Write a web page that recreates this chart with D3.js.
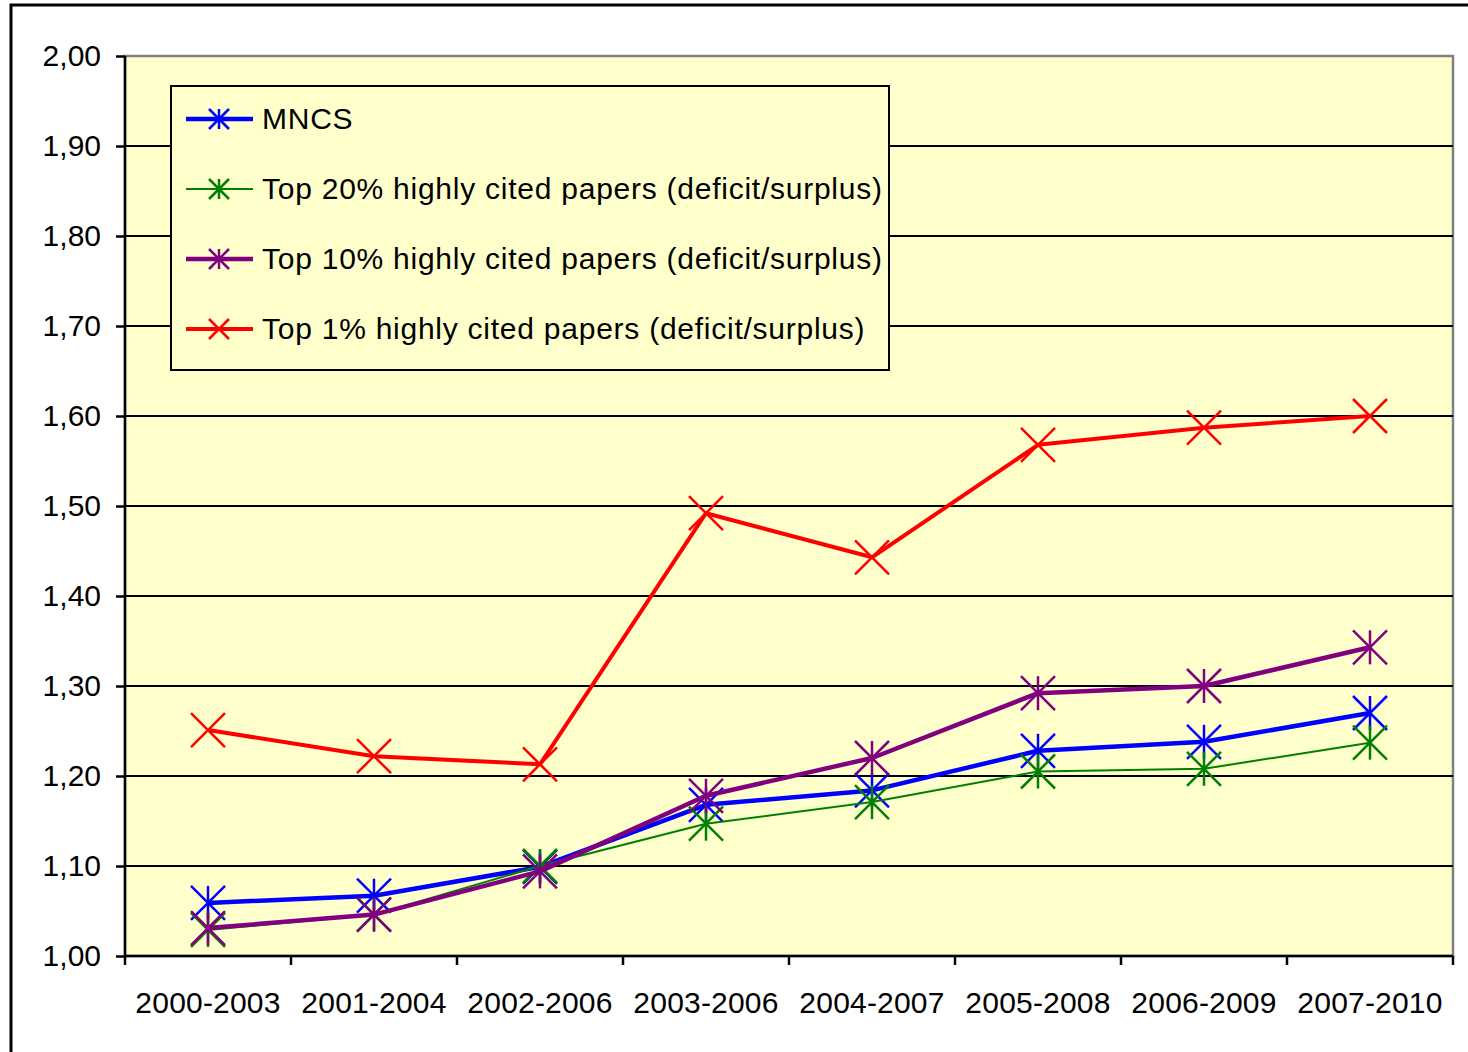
<!DOCTYPE html>
<html lang="en">
<head>
<meta charset="UTF-8">
<title>Chart</title>
<style>
  body { margin: 0; background: #fff; }
  svg text { font-family: "Liberation Sans", Arial, sans-serif; fill: #000; }
</style>
</head>
<body>
<svg id="chart" width="1468" height="1052"></svg>
<script src="https://d3js.org/d3.v7.min.js"></script>
<script>
// periods on the x axis
var periods = ["2000-2003", "2001-2004", "2002-2006", "2003-2006", "2004-2007", "2005-2008", "2006-2009", "2007-2010"];

// series values
var mncs   = [1.059, 1.067, 1.099, 1.168, 1.184, 1.228, 1.238, 1.270];
var top20  = [1.029, 1.046, 1.100, 1.147, 1.171, 1.205, 1.208, 1.237];
var top10  = [1.031, 1.046, 1.094, 1.178, 1.220, 1.292, 1.300, 1.343];
var top1   = [1.251, 1.222, 1.213, 1.492, 1.443, 1.568, 1.587, 1.600];

var yTicks = [1.0, 1.1, 1.2, 1.3, 1.4, 1.5, 1.6, 1.7, 1.8, 1.9, 2.0];

var series = [
  { name: "MNCS", values: mncs, color: "#0000ff", width: 4.5, marker: "star" },
  { name: "Top 20% highly cited papers (deficit/surplus)", values: top20, color: "#008000", width: 2, marker: "star" },
  { name: "Top 10% highly cited papers (deficit/surplus)", values: top10, color: "#800080", width: 4.5, marker: "star" },
  { name: "Top 1% highly cited papers (deficit/surplus)", values: top1, color: "#ff0000", width: 4, marker: "x" }
];

var svg = d3.select("#chart");
// plot edges
var pLeft = 125, pRight = 1453, pTop = 56, pBottom = 956;

// outer frame
svg.append("rect")
  .attr("x", 11).attr("y", 5)
  .attr("width", 1500).attr("height", 1100)
  .attr("fill", "none").attr("stroke", "#000").attr("stroke-width", 3);

var x = d3.scaleBand().domain(periods).range([pLeft, pRight]);
var y = d3.scaleLinear().domain([1, 2]).range([pBottom, pTop]);

// plot background
svg.append("rect")
  .attr("x", pLeft).attr("y", pTop)
  .attr("width", pRight - pLeft).attr("height", pBottom - pTop)
  .attr("fill", "#ffffcc").attr("stroke", "#808080").attr("stroke-width", 2.5);

// gridlines
svg.append("g").selectAll("line")
  .data(yTicks.slice(1, -1))
  .enter().append("line")
  .attr("x1", pLeft).attr("x2", pRight)
  .attr("y1", function(d) { return y(d); })
  .attr("y2", function(d) { return y(d); })
  .attr("stroke", "#000").attr("stroke-width", 2);

// y axis
var yAxis = d3.axisLeft(y)
  .tickValues(yTicks)
  .tickSize(9)
  .tickPadding(8)
  .tickFormat(function(d) { return d3.format(".2f")(d).replace(".", ","); });
var gy = svg.append("g").attr("transform", "translate(" + pLeft + ",0)").call(yAxis);
gy.select(".domain").attr("stroke", "#000").attr("stroke-width", 2.5).attr("d", "M0," + pTop + "V" + pBottom);
gy.selectAll(".tick line").attr("stroke", "#000").attr("stroke-width", 2.5);
gy.selectAll("text")
  .attr("fill", "#000")
  .style("font-family", "'Liberation Sans', Arial, sans-serif")
  .style("font-size", "30px").attr("dx", "-7px");

// x axis with ticks at band edges
var gx = svg.append("g").attr("transform", "translate(0," + pBottom + ")");
gx.append("line").attr("x1", pLeft).attr("x2", pRight)
  .attr("stroke", "#000").attr("stroke-width", 2.5);
gx.selectAll(".edge")
  .data(periods.concat(["end"]))
  .enter().append("line")
  .attr("class", "edge")
  .attr("x1", function(d, i) { return i < periods.length ? x(d) : pRight; })
  .attr("x2", function(d, i) { return i < periods.length ? x(d) : pRight; })
  .attr("y1", 0).attr("y2", 9)
  .attr("stroke", "#000").attr("stroke-width", 2.5);
gx.selectAll(".lbl")
  .data(periods)
  .enter().append("text")
  .attr("x", function(d) { return x(d) + x.bandwidth() / 2; })
  .attr("y", 57)
  .attr("text-anchor", "middle")
  .style("font-size", "30px").style("letter-spacing", "0.2px")
  .text(function(d) { return d; });

function drawMarker(g, type, color, size) {
  var s = size;
  if (type === "star") {
    g.append("line").attr("x1", 0).attr("x2", 0).attr("y1", -s).attr("y2", s);
  }
  g.append("line").attr("x1", -s).attr("x2", s).attr("y1", -s).attr("y2", s);
  g.append("line").attr("x1", -s).attr("x2", s).attr("y1", s).attr("y2", -s);
  g.selectAll("line").attr("stroke", color).attr("stroke-width", 2.5);
}

var line = d3.line()
  .x(function(d, i) { return x(periods[i]) + x.bandwidth() / 2; })
  .y(function(d) { return y(d); });

// legend box
var lg = svg.append("g");
lg.append("rect")
  .attr("x", 171).attr("y", 86).attr("width", 718).attr("height", 284)
  .attr("fill", "#ffffcc").attr("stroke", "#000").attr("stroke-width", 2);
series.forEach(function(s, i) {
  var ly = 119 + i * 70;
  lg.append("line").attr("x1", 186).attr("x2", 253).attr("y1", ly).attr("y2", ly)
    .attr("stroke", s.color).attr("stroke-width", s.width);
  var m = lg.append("g").attr("transform", "translate(219," + ly + ")");
  drawMarker(m, s.marker, s.color, 10);
  lg.append("text").attr("x", 262).attr("y", ly + 10)
    .style("font-size", "30px").style("letter-spacing", "0.75px").text(s.name);
});

// series lines and markers
series.forEach(function(s) {
  svg.append("path")
    .datum(s.values)
    .attr("d", line)
    .attr("fill", "none")
    .attr("stroke", s.color)
    .attr("stroke-width", s.width)
    .attr("stroke-linejoin", "round");
  s.values.forEach(function(v, i) {
    var m = svg.append("g")
      .attr("transform", "translate(" + (x(periods[i]) + x.bandwidth() / 2) + "," + y(v) + ")");
    drawMarker(m, s.marker, s.color, 17);
  });
});
</script>
</body>
</html>
